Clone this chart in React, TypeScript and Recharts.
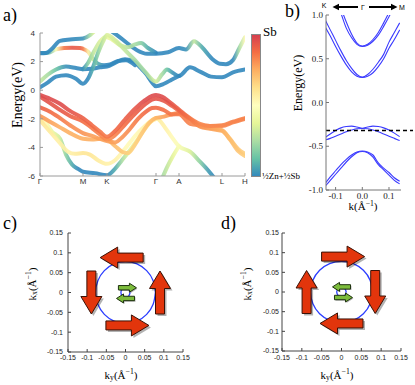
import React from 'react';
import { LineChart, Line, XAxis, YAxis, ReferenceLine, ComposedChart, Scatter } from 'recharts';

const SANS = '"Liberation Sans", Arial, sans-serif';
const SERIF = '"Liberation Serif", "DejaVu Serif", serif';

// ---------- panel a: bands along Γ-M-K-Γ-A-L-H ----------
const pathTicks = [0, 43, 67, 116, 139, 182, 205];
const pathLabels = ['Γ', 'M', 'K', 'Γ', 'A', 'L', 'H'];
const energyTicksA = [-6, -4, -2, 0, 2, 4];

// each point: [path position, energy (eV), Sb weight 0..1]
const cbA = [[0, 0.2, 0.08], [8, 0.55, 0.08], [16, 0.95, 0.06], [26, 1.05, 0.05], [36, 0.8, 0.05], [43, 0.45, 0.05], [48, 0.8, 0.08], [53, 1.6, 0.15], [58, 2.6, 0.25], [63, 3.4, 0.35], [67, 3.86, 0.4], [75, 3.5, 0.38], [85, 2.8, 0.35], [95, 2.1, 0.3], [105, 1.3, 0.3], [116, 0.6, 0.38], [122, 1.1, 0.3], [127, 1.45, 0.2], [133, 1.2, 0.1], [139, 1.0, 0.05], [150, 1.6, 0.05], [160, 1.3, 0.05], [171, 0.95, 0.05], [182, 0.9, 0.05], [193, 1.25, 0.05], [205, 1.45, 0.05]];
const cbB = [[0, 0.6, 0.35], [8, 1.1, 0.3], [16, 1.45, 0.2], [26, 1.65, 0.1], [36, 1.55, 0.05], [43, 1.47, 0.05], [52, 1.5, 0.05], [60, 1.6, 0.05], [67, 1.65, 0.05], [76, 1.95, 0.05], [85, 2.17, 0.05], [95, 1.95, 0.05], [100, 1.6, 0.05], [106, 1.15, 0.05], [112, 0.55, 0.05], [116, 0.27, 0.05], [124, 0.45, 0.05], [132, 0.75, 0.05], [139, 1.0, 0.05]];
const cbC = [[0, 2.6, 0.08], [8, 2.62, 0.15], [16, 2.85, 0.5], [24, 2.95, 0.85], [32, 2.97, 0.92], [40, 2.95, 0.9], [43, 2.9, 0.85], [48, 2.7, 0.6], [53, 2.2, 0.35], [58, 1.85, 0.15], [64, 1.75, 0.06], [70, 1.8, 0.05], [78, 2.05, 0.05], [86, 2.1, 0.05], [95, 1.75, 0.05]];
const cbD = [[0, 2.58, 0.08], [6, 2.6, 0.08], [12, 2.9, 0.08], [20, 3.45, 0.08], [30, 3.55, 0.08], [43, 3.62, 0.1], [50, 3.85, 0.3], [54, 4.1, 0.4]];
const cbE = [[43, 1.47, 0.1], [48, 1.9, 0.25], [54, 2.7, 0.35], [60, 3.4, 0.4], [66, 3.72, 0.45], [72, 3.55, 0.42], [80, 3.15, 0.38], [88, 3.0, 0.33], [95, 3.2, 0.3], [101, 3.3, 0.25], [108, 2.95, 0.15], [116, 2.62, 0.08]];
const cbF = [[72, 4.1, 0.1], [78, 3.8, 0.08], [87, 3.3, 0.06], [97, 2.8, 0.05], [107, 2.55, 0.05], [116, 2.55, 0.05], [128, 2.65, 0.05], [139, 2.95, 0.08], [146, 2.85, 0.1], [154, 3.42, 0.35], [162, 3.0, 0.15], [172, 2.2, 0.05], [180, 1.85, 0.05], [186, 1.82, 0.05], [193, 2.1, 0.08], [199, 2.9, 0.3], [205, 3.7, 0.55]];

const vb1 = [[0, -0.33, 0.95], [10, -0.6, 0.95], [20, -0.95, 0.95], [30, -1.45, 0.93], [43, -1.95, 0.9], [52, -2.45, 0.88], [60, -2.9, 0.85], [67, -3.25, 0.85], [75, -2.85, 0.88], [85, -2.05, 0.9], [95, -1.3, 0.92], [105, -0.7, 0.95], [112, -0.4, 0.95], [116, -0.33, 0.95], [122, -0.45, 0.95], [130, -0.85, 0.93], [139, -1.35, 0.9], [150, -1.95, 0.85], [160, -2.35, 0.82], [170, -2.5, 0.82], [182, -2.45, 0.82], [193, -2.2, 0.83], [205, -1.95, 0.83]];
const vb2 = [[0, -0.45, 0.93], [10, -0.9, 0.93], [20, -1.38, 0.92], [30, -1.8, 0.9], [43, -2.2, 0.87], [52, -2.65, 0.85], [60, -3.1, 0.83], [67, -3.45, 0.8], [75, -3.15, 0.83], [85, -2.4, 0.87], [95, -1.65, 0.9], [105, -1.0, 0.92], [112, -0.66, 0.93], [116, -0.6, 0.93], [124, -0.75, 0.92], [132, -1.1, 0.9], [139, -1.45, 0.88], [150, -2.0, 0.85], [160, -2.5, 0.8], [170, -2.65, 0.78], [182, -2.8, 0.75], [190, -3.4, 0.72], [198, -4.1, 0.7], [205, -4.45, 0.68]];
const vb3 = [[0, -1.2, 0.9], [10, -1.5, 0.88], [20, -1.95, 0.85], [30, -2.45, 0.82], [43, -3.0, 0.8], [52, -3.2, 0.78], [60, -3.4, 0.78], [67, -3.55, 0.78], [75, -3.65, 0.78], [82, -3.3, 0.8], [90, -2.7, 0.82], [98, -2.0, 0.85], [106, -1.5, 0.88], [112, -1.25, 0.88], [116, -1.22, 0.88], [124, -1.4, 0.87], [132, -1.7, 0.85], [139, -1.68, 0.85], [150, -2.35, 0.83], [160, -2.45, 0.82], [170, -2.5, 0.82], [182, -2.5, 0.82], [193, -2.25, 0.82], [205, -2.0, 0.82]];
const vb4 = [[0, -1.8, 0.8], [10, -2.2, 0.78], [20, -2.6, 0.75], [30, -3.0, 0.75], [43, -3.4, 0.75], [52, -3.45, 0.75], [60, -3.4, 0.75], [67, -3.45, 0.75], [75, -3.9, 0.72], [82, -4.3, 0.7], [88, -4.4, 0.68], [95, -3.8, 0.68], [102, -3.0, 0.7], [109, -2.3, 0.72], [116, -1.94, 0.75], [124, -1.85, 0.78], [132, -1.68, 0.8], [139, -1.6, 0.8], [150, -2.05, 0.8], [160, -2.55, 0.8], [170, -2.7, 0.78], [182, -2.85, 0.75], [190, -3.45, 0.72], [198, -4.25, 0.7], [205, -4.6, 0.68]];
const vb5 = [[0, -2.1, 0.62], [10, -2.9, 0.6], [20, -3.7, 0.58], [28, -4.3, 0.58], [35, -4.45, 0.6], [43, -4.4, 0.62], [50, -4.5, 0.62], [58, -4.9, 0.6], [67, -5.15, 0.58], [75, -4.9, 0.58], [85, -4.1, 0.55], [95, -3.2, 0.55], [105, -2.5, 0.58], [112, -2.1, 0.6], [116, -1.95, 0.6], [125, -2.6, 0.58], [132, -3.3, 0.55], [139, -3.92, 0.5], [150, -4.3, 0.4], [160, -5.0, 0.25], [168, -5.6, 0.12], [175, -6.2, 0.08]];
const vb6 = [[0, -1.9, 0.62], [6, -2.3, 0.55], [12, -2.9, 0.45], [20, -3.4, 0.38], [26, -4.5, 0.25], [32, -5.2, 0.15], [38, -5.5, 0.08], [43, -5.7, 0.06], [55, -5.8, 0.05], [67, -5.95, 0.06], [75, -5.5, 0.15], [82, -4.9, 0.3], [90, -4.2, 0.42], [98, -3.4, 0.5], [106, -2.6, 0.55], [112, -2.15, 0.58], [116, -2.0, 0.6]];
const vb7 = [[122, -6.2, 0.3], [127, -5.4, 0.35], [133, -4.6, 0.42], [139, -3.92, 0.5]];

const bandsA = [vb7, vb6, vb5, vb4, vb3, vb2, vb1, cbC, cbB, cbF, cbE, cbA, cbD];

// ---------- panel b: bands near Γ ----------
const kB = [-0.14, -0.12, -0.1, -0.08, -0.06, -0.04, -0.02, 0, 0.02, 0.04, 0.06, 0.08, 0.1, 0.12, 0.14];
const c2Lower = [1.6, 1.35, 1.18, 1.02, 0.85, 0.74, 0.665, 0.64, 0.655, 0.7, 0.77, 0.87, 0.98, 1.1, 1.25];
const c2Upper = [1.68, 1.42, 1.25, 1.08, 0.92, 0.78, 0.68, 0.645, 0.665, 0.72, 0.8, 0.91, 1.03, 1.16, 1.32];
const c1Lower = [0.87, 0.76, 0.64, 0.53, 0.43, 0.35, 0.3, 0.285, 0.3, 0.34, 0.41, 0.5, 0.62, 0.72, 0.83];
const c1Upper = [0.95, 0.83, 0.71, 0.59, 0.48, 0.39, 0.32, 0.29, 0.32, 0.38, 0.46, 0.55, 0.69, 0.8, 0.91];
const v1Camel = [-0.4, -0.36, -0.32, -0.29, -0.275, -0.27, -0.28, -0.295, -0.28, -0.27, -0.275, -0.29, -0.315, -0.35, -0.39];
const v1Dome = [-0.43, -0.41, -0.385, -0.36, -0.335, -0.315, -0.3, -0.297, -0.3, -0.315, -0.335, -0.36, -0.385, -0.41, -0.435];
const v2Upper = [-0.93, -0.85, -0.78, -0.71, -0.65, -0.6, -0.565, -0.555, -0.565, -0.6, -0.69, -0.75, -0.8, -0.86, -0.9];
const v2Lower = [-0.96, -0.89, -0.82, -0.75, -0.68, -0.62, -0.575, -0.56, -0.575, -0.625, -0.71, -0.77, -0.83, -0.89, -0.93];
const bandsB = [c2Lower, c2Upper, c1Lower, c1Upper, v1Camel, v1Dome, v2Upper, v2Lower];
const energyTicksB = [-1, -0.5, 0, 0.5, 1];
const kTicksB = [-0.1, 0, 0.1];
const fermiLevel = -0.32;

// ---------- panels c, d: spin texture ----------
const kTicks = [-0.15, -0.1, -0.05, 0, 0.05, 0.1, 0.15];
const outerRing = [
  { ky: 0.078, kx: 0 }, { ky: 0.0721, kx: 0.0298 }, { ky: 0.0552, kx: 0.0552 }, { ky: 0.0298, kx: 0.0721 },
  { ky: 0, kx: 0.078 }, { ky: -0.0298, kx: 0.0721 }, { ky: -0.0552, kx: 0.0552 }, { ky: -0.0721, kx: 0.0298 },
  { ky: -0.078, kx: 0 }, { ky: -0.0721, kx: -0.0298 }, { ky: -0.0552, kx: -0.0552 }, { ky: -0.0298, kx: -0.0721 },
  { ky: 0, kx: -0.078 }, { ky: 0.0298, kx: -0.0721 }, { ky: 0.0552, kx: -0.0552 }, { ky: 0.0721, kx: -0.0298 },
  { ky: 0.078, kx: 0 },
];
const innerRing = [
  { ky: 0.012, kx: 0 }, { ky: 0.0085, kx: 0.0085 }, { ky: 0, kx: 0.012 }, { ky: -0.0085, kx: 0.0085 },
  { ky: -0.012, kx: 0 }, { ky: -0.0085, kx: -0.0085 }, { ky: 0, kx: -0.012 }, { ky: 0.0085, kx: -0.0085 },
  { ky: 0.012, kx: 0 },
];
const redSpinsC = [{ ky: -0.01, kx: 0.088, dir: 'left' }, { ky: 0.09, kx: 0, dir: 'up' }, { ky: 0.005, kx: -0.083, dir: 'right' }, { ky: -0.089, kx: 0, dir: 'down' }];
const greenSpinsC = [{ ky: 0.005, kx: 0.012, dir: 'right' }, { ky: 0, kx: -0.015, dir: 'left' }];
const redSpinsD = [{ ky: 0.004, kx: 0.09, dir: 'right' }, { ky: 0.085, kx: 0, dir: 'down' }, { ky: 0, kx: -0.08, dir: 'left' }, { ky: -0.088, kx: 0, dir: 'up' }];
const greenSpinsD = [{ ky: 0, kx: 0.013, dir: 'left' }, { ky: 0.005, kx: -0.014, dir: 'right' }];

// Spectral colour map, low = ½Zn+½Sb (blue), high = Sb (red)
const spectral = ['#3288bd', '#66c2a5', '#abdda4', '#e6f598', '#ffffbf', '#fee08b', '#fdae61', '#f46d43', '#d53e4f'];
const hex = (c: string) => [1, 3, 5].map(i => parseInt(c.slice(i, i + 2), 16));
const sbColor = (w: number) => {
  const t = Math.min(Math.max((w - 0.08) / 0.9, 0), 1) * (spectral.length - 1);
  const i = Math.min(Math.floor(t), spectral.length - 2);
  const f = t - i;
  const a = hex(spectral[i]);
  const b = hex(spectral[i + 1]);
  return `rgb(${a.map((v, j) => Math.round(v + (b[j] - v) * f)).join(',')})`;
};

const arrowTurn: Record<string, number> = { right: 0, down: 90, left: 180, up: 270 };
const redArrowPts = '-21.5,-4.5 4,-4.5 4,-10.5 21.5,0 4,10.5 4,4.5 -21.5,4.5';
const greenArrowPts = '-9,-2.2 2,-2.2 2,-4.5 9,0 2,4.5 2,2.2 -9,2.2';

const makeArrow = (pts: string, fill: string, edge: string, shadow: number) => (props: any) => {
  const { cx, cy, payload } = props;
  if (cx == null || cy == null) return <g />;
  const rot = arrowTurn[payload.dir];
  return (
    <g>
      <polygon points={pts} transform={`translate(${cx + shadow},${cy + shadow}) rotate(${rot})`} fill="#000" opacity={0.3} />
      <polygon points={pts} transform={`translate(${cx},${cy}) rotate(${rot})`} fill={fill} stroke={edge} strokeWidth={1} />
    </g>
  );
};
const RedArrow = makeArrow(redArrowPts, '#e2350c', '#3a1206', 2);
const GreenArrow = makeArrow(greenArrowPts, '#7cbc3c', '#1f3310', 1);

const abs = (left: number, top: number, extra: React.CSSProperties = {}): React.CSSProperties => ({
  position: 'absolute', left, top, ...extra,
});

const VText: React.FC<{ x: number; y: number; size: number; children: React.ReactNode }> = ({ x, y, size, children }) => (
  <div style={abs(x, y, { transform: 'translate(-50%,-50%) rotate(-90deg)', fontFamily: SERIF, fontSize: size, whiteSpace: 'nowrap', lineHeight: 1 })}>
    {children}
  </div>
);
const HText: React.FC<{ x: number; y: number; size: number; children: React.ReactNode }> = ({ x, y, size, children }) => (
  <div style={abs(x, y, { transform: 'translate(-50%,-50%)', fontFamily: SERIF, fontSize: size, whiteSpace: 'nowrap', lineHeight: 1 })}>
    {children}
  </div>
);
const Sub = ({ c }: { c: string }) => <span style={{ fontSize: '0.7em', verticalAlign: '-0.25em' }}>{c}</span>;

const SpinPanel: React.FC<{ width: number; yWidth: number; right: number; bottom: number; tickGap: number; xGap: number; red: any[]; green: any[] }> = ({ width, yWidth, right, bottom, tickGap, xGap, red, green }) => {
  const tickStyle = { fill: '#222', fontSize: 7, fontFamily: SANS };
  return (
    <ComposedChart width={width} height={170} margin={{ top: 18, right, bottom, left: 0 }}>
      <XAxis type="number" dataKey="ky" domain={[-0.15, 0.15]} ticks={kTicks} interval={0} tickFormatter={(v: number) => String(v)} height={12} tickSize={-3} tickMargin={xGap} stroke="#444" tick={tickStyle} />
      <XAxis xAxisId="top" orientation="top" type="number" dataKey="ky" domain={[-0.15, 0.15]} ticks={kTicks} interval={0} height={0} tickSize={-3} tick={false} stroke="#444" />
      <YAxis type="number" dataKey="kx" domain={[-0.15, 0.15]} ticks={kTicks} interval={0} tickFormatter={(v: number) => String(v)} width={yWidth} tickSize={-3} tickMargin={tickGap} stroke="#444" tick={tickStyle} />
      <YAxis yAxisId="right" orientation="right" type="number" dataKey="kx" domain={[-0.15, 0.15]} ticks={kTicks} interval={0} width={0} tickSize={-3} tick={false} stroke="#444" />
      <Line data={outerRing} dataKey="kx" type="natural" stroke="#2b3dff" strokeWidth={1.3} dot={false} isAnimationActive={false} />
      <Line data={innerRing} dataKey="kx" type="natural" stroke="#2b3dff" strokeWidth={1.3} dot={false} isAnimationActive={false} />
      <Scatter data={green} dataKey="kx" shape={GreenArrow} isAnimationActive={false} />
      <Scatter data={red} dataKey="kx" shape={RedArrow} isAnimationActive={false} />
    </ComposedChart>
  );
};

export default function App() {
  const tickA = { fill: '#333', fontSize: 8, fontFamily: SANS };
  const tickB = { fill: '#222', fontSize: 9, fontFamily: SERIF };
  const n = spectral.length;
  return (
    <div style={{ position: 'absolute', left: 0, top: 0, width: 415, height: 385, background: '#fff', overflow: 'hidden' }}>
      {/* a) */}
      <div style={abs(0, 0)}>
        <LineChart width={250} height={200} margin={{ top: 33, right: 5, bottom: 14, left: 0 }}>
          <defs>
            {bandsA.map((band, i) => (
              <linearGradient key={i} id={`sbBand${i}`} gradientUnits="userSpaceOnUse" x1={40} x2={245} y1={0} y2={0}>
                {band.map(([k, , w], j) => (
                  <stop key={j} offset={k / 205} stopColor={sbColor(w)} />
                ))}
              </linearGradient>
            ))}
          </defs>
          <XAxis type="number" dataKey="k" domain={[0, 205]} ticks={pathTicks} interval={0} tickFormatter={(v: number) => pathLabels[pathTicks.indexOf(v)]} height={10} tickSize={-3} tickMargin={5} stroke="#9a9a9a" tick={tickA} allowDataOverflow />
          <XAxis xAxisId="top" orientation="top" type="number" dataKey="k" domain={[0, 205]} ticks={pathTicks} interval={0} height={0} tickSize={-3} tick={false} stroke="#9a9a9a" />
          <YAxis type="number" domain={[-6, 4]} ticks={energyTicksA} interval={0} width={40} tickSize={-3} tickMargin={8} stroke="#9a9a9a" tick={tickA} allowDataOverflow />
          <YAxis yAxisId="right" orientation="right" type="number" domain={[-6, 4]} ticks={energyTicksA} interval={0} width={0} tickSize={-3} tick={false} stroke="#9a9a9a" />
          {bandsA.map((band, i) => (
            <Line key={i} data={band.map(([k, e]) => ({ k, e }))} dataKey="e" type="monotone" stroke={`url(#sbBand${i})`} strokeWidth={4} strokeOpacity={0.9} strokeLinecap="round" dot={false} isAnimationActive={false} />
          ))}
        </LineChart>
      </div>
      <svg style={abs(251, 34)} width={10} height={144}>
        <defs>
          <linearGradient id="sbScale" x1={0} x2={0} y1={0} y2={1}>
            {spectral.map((_, i) => (
              <stop key={i} offset={i / (n - 1)} stopColor={spectral[n - 1 - i]} />
            ))}
          </linearGradient>
        </defs>
        <rect x={0.5} y={0.5} width={9} height={142} fill="url(#sbScale)" stroke="#888" strokeWidth={1} />
      </svg>
      <div style={abs(263, 25, { fontFamily: SERIF, fontSize: 13, lineHeight: 1 })}>Sb</div>
      <div style={abs(262, 172, { fontFamily: SERIF, fontSize: 9, lineHeight: 1, whiteSpace: 'nowrap' })}>½Zn+½Sb</div>
      <div style={abs(3, 6, { fontFamily: SERIF, fontSize: 18, lineHeight: 1 })}>a)</div>
      <VText x={18} y={95} size={14}>Energy(eV)</VText>

      {/* b) */}
      <div style={abs(280, 0)}>
        <LineChart width={135} height={215} margin={{ top: 15, right: 14, bottom: 13, left: 0 }}>
          <XAxis type="number" dataKey="k" domain={[-0.136, 0.145]} ticks={kTicksB} interval={0} tickFormatter={(v: number) => v.toFixed(1)} height={12} tickSize={-3} tickMargin={6} stroke="#777" tick={tickB} allowDataOverflow />
          <XAxis xAxisId="top" orientation="top" type="number" dataKey="k" domain={[-0.136, 0.145]} ticks={kTicksB} interval={0} height={0} tickSize={-3} tick={false} stroke="#777" />
          <YAxis type="number" domain={[-1, 1]} ticks={energyTicksB} interval={0} tickFormatter={(v: number) => v.toFixed(1)} width={46} tickSize={-3} tickMargin={6} stroke="#777" tick={tickB} allowDataOverflow />
          <YAxis yAxisId="right" orientation="right" type="number" domain={[-1, 1]} ticks={energyTicksB} interval={0} width={0} tickSize={-3} tick={false} stroke="#777" />
          {bandsB.map((band, i) => (
            <Line key={i} data={kB.map((k, j) => ({ k, e: band[j] }))} dataKey="e" type="monotone" stroke="#3a3aff" strokeWidth={1.1} dot={false} isAnimationActive={false} />
          ))}
          <ReferenceLine segment={[{ x: -0.136, y: fermiLevel }, { x: 0.19, y: fermiLevel }]} ifOverflow="visible" stroke="#000" strokeWidth={1.3} strokeDasharray="4 3" />
        </LineChart>
      </div>
      <svg style={abs(315, 0)} width={100} height={14}>
        <g fontFamily={SANS} fontSize={7} fill="#000" textAnchor="middle">
          <text x={9} y={8}>K</text>
          <text x={48} y={9.5}>Γ</text>
          <text x={87} y={9.5}>M</text>
        </g>
        <line x1={22} y1={7} x2={43} y2={7} stroke="#000" strokeWidth={2} />
        <polygon points="17.5,7 24,3.8 24,10.2" fill="#000" />
        <line x1={54} y1={7} x2={77} y2={7} stroke="#000" strokeWidth={2} />
        <polygon points="82.5,7 76,3.8 76,10.2" fill="#000" />
      </svg>
      <div style={abs(285, 2, { fontFamily: SERIF, fontSize: 18, lineHeight: 1 })}>b)</div>
      <VText x={298} y={83} size={12}>Energy(eV)</VText>
      <HText x={363} y={206} size={11}>k(Å<sup style={{ fontSize: '0.7em' }}>−1</sup>)</HText>

      {/* c) */}
      <div style={abs(0, 215)}>
        <SpinPanel width={195} yWidth={68} right={12} bottom={21} tickGap={8} xGap={6} red={redSpinsC} green={greenSpinsC} />
      </div>
      <div style={abs(3, 214, { fontFamily: SERIF, fontSize: 18, lineHeight: 1 })}>c)</div>
      <VText x={32} y={284} size={11}>k<Sub c="x" />(Å<sup style={{ fontSize: '0.7em' }}>−1</sup>)</VText>
      <HText x={121} y={375} size={11}>k<Sub c="y" />(Å<sup style={{ fontSize: '0.7em' }}>−1</sup>)</HText>

      {/* d) */}
      <div style={abs(205, 215)}>
        <SpinPanel width={210} yWidth={77} right={14} bottom={22} tickGap={6} xGap={7} red={redSpinsD} green={greenSpinsD} />
      </div>
      <div style={abs(221, 214, { fontFamily: SERIF, fontSize: 18, lineHeight: 1 })}>d)</div>
      <VText x={247} y={284} size={11}>k<Sub c="x" />(Å<sup style={{ fontSize: '0.7em' }}>−1</sup>)</VText>
      <HText x={337} y={375} size={11}>k<Sub c="y" />(Å<sup style={{ fontSize: '0.7em' }}>−1</sup>)</HText>
    </div>
  );
}
